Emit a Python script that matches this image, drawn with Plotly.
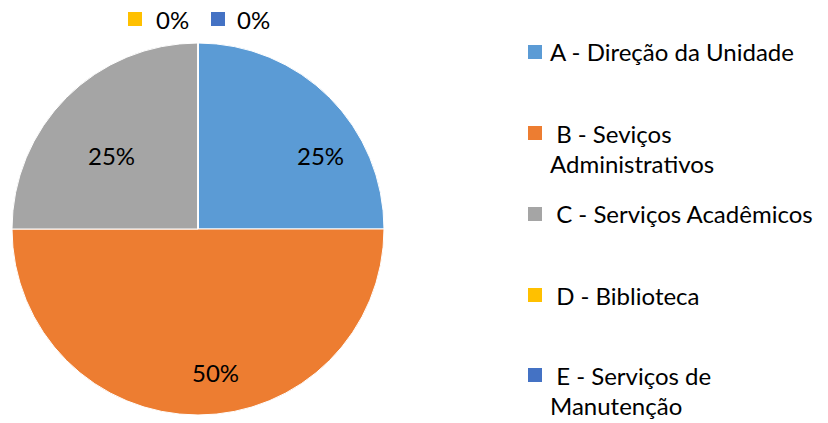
import plotly.graph_objects as go

W, H = 828, 423

labels = ["A - Direção da Unidade", "B - Seviços Administrativos", "C - Serviços Acadêmicos",
          "D - Biblioteca", "E - Serviços de Manutenção"]
values = [25, 50, 25, 0, 0]
colors = ["#5B9BD5", "#ED7D31", "#A5A5A5", "#FFC000", "#4472C4"]
legend_lines = [["A - Direção da Unidade"],
                [" B - Seviços", "Administrativos"],
                [" C - Serviços Acadêmicos"],
                [" D - Biblioteca"],
                [" E - Serviços de", "Manutenção"]]

FONT = "Lato"
FS = 24

def px_x(x):
    return x / W

def px_y(y):
    return 1 - y / H

total = sum(values)
pct = [f"{round(v / total * 100)}%" for v in values]

fig = go.Figure(go.Pie(
    labels=labels, values=values, sort=False, direction="clockwise", rotation=0,
    marker=dict(colors=colors, line=dict(color="white", width=1)),
    textinfo="none",
    domain=dict(x=[px_x(12), px_x(384)], y=[px_y(415), px_y(43)]),
    showlegend=False, hoverinfo="label+percent",
))

shapes = []
annotations = []

# data labels placed like Excel's "best fit" (pixel positions of label centres)
label_pos = {0: (320, 155), 1: (215, 372), 2: (112, 155)}
for i, (x, y) in label_pos.items():
    annotations.append(dict(text=pct[i], x=px_x(x), y=px_y(y), xref="paper", yref="paper",
                            showarrow=False, xanchor="center", yanchor="middle",
                            font=dict(family=FONT, size=FS, color="black")))

# "0%" labels for the empty slices, with their colour keys
zero_pos = [(128, 172), (211, 254)]
zi = 0
for i, v in enumerate(values):
    if v == 0:
        sx, tx = zero_pos[zi]
        zi += 1
        shapes.append(dict(type="rect", xref="paper", yref="paper",
                           x0=px_x(sx), x1=px_x(sx + 14), y0=px_y(26), y1=px_y(12),
                           fillcolor=colors[i], line=dict(width=0)))
        annotations.append(dict(text=pct[i], x=px_x(tx), y=px_y(20), xref="paper", yref="paper",
                                showarrow=False, xanchor="center", yanchor="middle",
                                font=dict(family=FONT, size=FS, color="black")))

# legend drawn by hand to keep Excel's spacing
legend_y = [52, 133, 214, 295, 375]
for i, lines in enumerate(legend_lines):
    y0 = legend_y[i]
    shapes.append(dict(type="rect", xref="paper", yref="paper",
                       x0=px_x(528), x1=px_x(542), y0=px_y(y0 + 7), y1=px_y(y0 - 7),
                       fillcolor=colors[i], line=dict(width=0)))
    for j, line in enumerate(lines):
        annotations.append(dict(text=line.replace(" ", "&nbsp;", 1) if line.startswith(" ") else line,
                                x=px_x(548), y=px_y(y0 + 30 * j), xref="paper", yref="paper",
                                showarrow=False, xanchor="left", yanchor="middle",
                                font=dict(family=FONT, size=FS, color="black")))

fig.update_layout(
    width=W, height=H, margin=dict(l=0, r=0, t=0, b=0),
    paper_bgcolor="white", plot_bgcolor="white",
    shapes=shapes, annotations=annotations,
)

fig.write_html("out.html", config={"displayModeBar": False},
               post_script="document.body.style.margin='0px';")
